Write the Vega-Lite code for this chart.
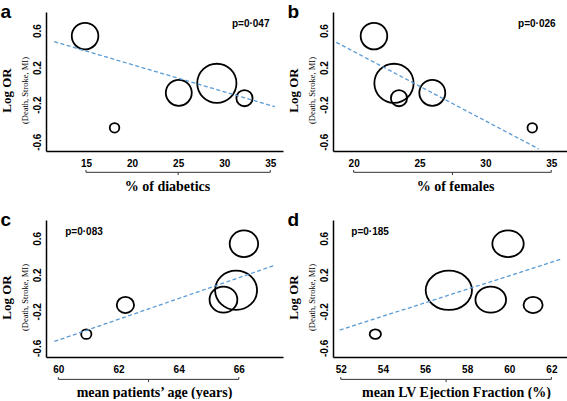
{
  "$schema": "https://vega.github.io/schema/vega-lite/v6.json",
  "padding": {"left": 0, "top": 2, "right": 0, "bottom": 0},
  "background": "white",
  "datasets": {
    "studies": [
      {"study": "A", "logOR": 0.54, "weight": 21.6, "diabetics": 14.9, "females": 21.54, "age": 66.17, "lvef": 59.94},
      {"study": "B", "logOR": -0.45, "weight": 2.8, "diabetics": 18.1, "females": 33.56, "age": 60.93, "lvef": 53.64},
      {"study": "C", "logOR": -0.072, "weight": 20.6, "diabetics": 25.07, "females": 25.97, "age": 65.49, "lvef": 59.12},
      {"study": "D", "logOR": 0.03, "weight": 47.0, "diabetics": 29.2, "females": 23.06, "age": 65.91, "lvef": 57.13},
      {"study": "E", "logOR": -0.13, "weight": 8.0, "diabetics": 32.2, "females": 23.44, "age": 62.23, "lvef": 61.13}
    ],
    "fits": [
      {"panel": "a", "x": 11.55, "y": 0.48}, {"panel": "a", "x": 35.5, "y": -0.222},
      {"panel": "b", "x": 18.68, "y": 0.473}, {"panel": "b", "x": 34.05, "y": -0.678},
      {"panel": "c", "x": 59.87, "y": -0.53}, {"panel": "c", "x": 67.16, "y": 0.3},
      {"panel": "d", "x": 51.95, "y": -0.405}, {"panel": "d", "x": 62.45, "y": 0.37}
    ]
  },
  "config": {
    "view": {"stroke": null},
    "font": "Liberation Sans",
    "title": {"anchor": "start", "frame": "bounds", "baseline": "alphabetic", "offset": -9.5, "fontSize": 19, "font": "Liberation Sans", "fontWeight": "bold", "color": "black"},
    "axis": {"domainColor": "black", "domainWidth": 1.5, "ticks": false, "tickSize": 0, "grid": false, "labelFont": "Liberation Sans", "labelFontWeight": "bold", "labelFontSize": 10, "labelColor": "black", "titleFont": "Liberation Serif", "titleFontWeight": "bold", "titleColor": "black", "titleFontSize": 14},
    "axisX": {"labelPadding": 7, "titlePadding": 11, "labelFlush": false},
    "axisY": {"labelAngle": -90, "labelAlign": "center", "labelBaseline": "bottom", "labelPadding": 4}
  },
  "spacing": 17,
  "vconcat": [
    {
      "spacing": 4,
      "hconcat": [
        {
          "width": 237, "height": 139,
          "title": {"text": "a"},
          "layer": [
            {"data": {"name": "studies"},
             "mark": {"type": "point", "shape": "circle", "filled": false, "color": "black", "strokeWidth": 1.8, "opacity": 1},
             "encoding": {
               "x": {"field": "diabetics", "type": "quantitative", "scale": {"domain": [10.66, 36.38], "nice": false, "zero": false}, "axis": {"title": "% of diabetics", "values": [15, 20, 25, 30, 35], "titleX": 121}},
               "y": {"field": "logOR", "type": "quantitative", "scale": {"domain": [-0.7, 0.8], "nice": false, "zero": false}, "axis": {"title": "Log OR", "values": [0.6, 0.2, -0.2, -0.6], "labelExpr": "toString(datum.value)", "minExtent": 14, "maxExtent": 14, "titlePadding": 18.5, "titleFontSize": 13, "titleY": 78}},
               "size": {"field": "weight", "type": "quantitative", "scale": {"type": "linear", "domain": [0, 100], "range": [0, 3274], "zero": true}, "legend": null}
             }},
            {"data": {"name": "fits"}, "transform": [{"filter": "datum.panel === 'a'"}],
             "mark": {"type": "line", "color": "#5b9bd5", "strokeDash": [4, 2.5], "strokeWidth": 1.3},
             "encoding": {
               "x": {"field": "x", "type": "quantitative", "scale": {"domain": [10.66, 36.38], "nice": false, "zero": false}, "axis": null},
               "y": {"field": "y", "type": "quantitative", "scale": {"domain": [-0.7, 0.8], "nice": false, "zero": false}, "axis": {"title": "(Death, Stroke, MI)", "orient": "left", "labels": false, "domain": false, "ticks": false, "minExtent": 0, "maxExtent": 0, "titlePadding": 16.7, "titleFontSize": 8.5, "titleFontWeight": "normal", "titleY": 78}}
             }},
            {"data": {"values": [{}]},
             "mark": {"type": "text", "text": "p=0·047", "align": "left", "baseline": "middle", "font": "Liberation Sans", "fontWeight": "bold", "fontSize": 10, "color": "black"},
             "encoding": {
               "x": {"datum": 30.84, "type": "quantitative", "scale": {"domain": [10.66, 36.38], "nice": false, "zero": false}, "axis": null},
               "y": {"datum": 0.67, "type": "quantitative", "scale": {"domain": [-0.7, 0.8], "nice": false, "zero": false}, "axis": null}
             }},
            {"data": {"values": [{}]},
             "mark": {"type": "rule", "color": "#333333", "strokeWidth": 1},
             "encoding": {
               "x": {"datum": 15, "type": "quantitative", "scale": {"domain": [10.66, 36.38], "nice": false, "zero": false}, "axis": null},
               "x2": {"datum": 35},
               "y": {"datum": -0.93, "type": "quantitative", "scale": {"domain": [-0.7, 0.8], "nice": false, "zero": false}, "axis": null}
             }},
            {"data": {"values": [{"v": 15}, {"v": 35}]},
             "mark": {"type": "rule", "color": "#333333", "strokeWidth": 1},
             "encoding": {
               "x": {"field": "v", "type": "quantitative", "scale": {"domain": [10.66, 36.38], "nice": false, "zero": false}, "axis": null},
               "y": {"datum": -0.93, "type": "quantitative", "scale": {"domain": [-0.7, 0.8], "nice": false, "zero": false}, "axis": null},
               "y2": {"datum": -0.905}
             }},
            {"data": {"values": [{}]},
             "mark": {"type": "rule", "color": "#333333", "strokeWidth": 1},
             "encoding": {
               "x": {"datum": 25, "type": "quantitative", "scale": {"domain": [10.66, 36.38], "nice": false, "zero": false}, "axis": null},
               "y": {"datum": -0.93, "type": "quantitative", "scale": {"domain": [-0.7, 0.8], "nice": false, "zero": false}, "axis": null},
               "y2": {"datum": -0.96}
             }}
          ],
          "resolve": {"axis": {"x": "independent", "y": "independent"}}
        },
        {
          "width": 238, "height": 139,
          "title": {"text": "b"},
          "layer": [
            {"data": {"name": "studies"},
             "mark": {"type": "point", "shape": "circle", "filled": false, "color": "black", "strokeWidth": 1.8, "opacity": 1},
             "encoding": {
               "x": {"field": "females", "type": "quantitative", "scale": {"domain": [18.43, 36.5], "nice": false, "zero": false}, "axis": {"title": "% of females", "values": [20, 25, 30, 35], "titleX": 122}},
               "y": {"field": "logOR", "type": "quantitative", "scale": {"domain": [-0.7, 0.8], "nice": false, "zero": false}, "axis": {"title": "Log OR", "values": [0.6, 0.2, -0.2, -0.6], "labelExpr": "toString(datum.value)", "minExtent": 14, "maxExtent": 14, "titlePadding": 18.5, "titleFontSize": 13, "titleY": 78}},
               "size": {"field": "weight", "type": "quantitative", "scale": {"type": "linear", "domain": [0, 100], "range": [0, 3274], "zero": true}, "legend": null}
             }},
            {"data": {"name": "fits"}, "transform": [{"filter": "datum.panel === 'b'"}],
             "mark": {"type": "line", "color": "#5b9bd5", "strokeDash": [4, 2.5], "strokeWidth": 1.3},
             "encoding": {
               "x": {"field": "x", "type": "quantitative", "scale": {"domain": [18.43, 36.5], "nice": false, "zero": false}, "axis": null},
               "y": {"field": "y", "type": "quantitative", "scale": {"domain": [-0.7, 0.8], "nice": false, "zero": false}, "axis": {"title": "(Death, Stroke, MI)", "orient": "left", "labels": false, "domain": false, "ticks": false, "minExtent": 0, "maxExtent": 0, "titlePadding": 16.7, "titleFontSize": 8.5, "titleFontWeight": "normal", "titleY": 78}}
             }},
            {"data": {"values": [{}]},
             "mark": {"type": "text", "text": "p=0·026", "align": "left", "baseline": "middle", "font": "Liberation Sans", "fontWeight": "bold", "fontSize": 10, "color": "black"},
             "encoding": {
               "x": {"datum": 32.48, "type": "quantitative", "scale": {"domain": [18.43, 36.5], "nice": false, "zero": false}, "axis": null},
               "y": {"datum": 0.67, "type": "quantitative", "scale": {"domain": [-0.7, 0.8], "nice": false, "zero": false}, "axis": null}
             }},
            {"data": {"values": [{}]},
             "mark": {"type": "rule", "color": "#333333", "strokeWidth": 1},
             "encoding": {
               "x": {"datum": 20, "type": "quantitative", "scale": {"domain": [18.43, 36.5], "nice": false, "zero": false}, "axis": null},
               "x2": {"datum": 35},
               "y": {"datum": -0.93, "type": "quantitative", "scale": {"domain": [-0.7, 0.8], "nice": false, "zero": false}, "axis": null}
             }},
            {"data": {"values": [{"v": 20}, {"v": 35}]},
             "mark": {"type": "rule", "color": "#333333", "strokeWidth": 1},
             "encoding": {
               "x": {"field": "v", "type": "quantitative", "scale": {"domain": [18.43, 36.5], "nice": false, "zero": false}, "axis": null},
               "y": {"datum": -0.93, "type": "quantitative", "scale": {"domain": [-0.7, 0.8], "nice": false, "zero": false}, "axis": null},
               "y2": {"datum": -0.905}
             }},
            {"data": {"values": [{}]},
             "mark": {"type": "rule", "color": "#333333", "strokeWidth": 1},
             "encoding": {
               "x": {"datum": 27.5, "type": "quantitative", "scale": {"domain": [18.43, 36.5], "nice": false, "zero": false}, "axis": null},
               "y": {"datum": -0.93, "type": "quantitative", "scale": {"domain": [-0.7, 0.8], "nice": false, "zero": false}, "axis": null},
               "y2": {"datum": -0.96}
             }}
          ],
          "resolve": {"axis": {"x": "independent", "y": "independent"}}
        }
      ]
    },
    {
      "spacing": 4,
      "hconcat": [
        {
          "width": 237, "height": 137,
          "title": {"text": "c"},
          "layer": [
            {"data": {"name": "studies"},
             "mark": {"type": "point", "shape": "M -1.07,0 A 1.07,1 0 1,0 1.07,0 A 1.07,1 0 1,0 -1.07,0 Z", "filled": false, "color": "black", "strokeWidth": 1.8, "opacity": 1},
             "encoding": {
               "x": {"field": "age", "type": "quantitative", "scale": {"domain": [59.59, 67.47], "nice": false, "zero": false}, "axis": {"title": "mean patients’ age (years)", "values": [60, 62, 64, 66], "titleX": 108}},
               "y": {"field": "logOR", "type": "quantitative", "scale": {"domain": [-0.7, 0.8], "nice": false, "zero": false}, "axis": {"title": "Log OR", "values": [0.6, 0.2, -0.2, -0.6], "labelExpr": "toString(datum.value)", "minExtent": 14, "maxExtent": 14, "titlePadding": 18.5, "titleFontSize": 13, "titleY": 77}},
               "size": {"field": "weight", "type": "quantitative", "scale": {"type": "linear", "domain": [0, 100], "range": [0, 3274], "zero": true}, "legend": null}
             }},
            {"data": {"name": "fits"}, "transform": [{"filter": "datum.panel === 'c'"}],
             "mark": {"type": "line", "color": "#5b9bd5", "strokeDash": [4, 2.5], "strokeWidth": 1.3},
             "encoding": {
               "x": {"field": "x", "type": "quantitative", "scale": {"domain": [59.59, 67.47], "nice": false, "zero": false}, "axis": null},
               "y": {"field": "y", "type": "quantitative", "scale": {"domain": [-0.7, 0.8], "nice": false, "zero": false}, "axis": {"title": "(Death, Stroke, MI)", "orient": "left", "labels": false, "domain": false, "ticks": false, "minExtent": 0, "maxExtent": 0, "titlePadding": 16.7, "titleFontSize": 8.5, "titleFontWeight": "normal", "titleY": 77}}
             }},
            {"data": {"values": [{}]},
             "mark": {"type": "text", "text": "p=0·083", "align": "left", "baseline": "middle", "font": "Liberation Sans", "fontWeight": "bold", "fontSize": 10, "color": "black"},
             "encoding": {
               "x": {"datum": 60.23, "type": "quantitative", "scale": {"domain": [59.59, 67.47], "nice": false, "zero": false}, "axis": null},
               "y": {"datum": 0.665, "type": "quantitative", "scale": {"domain": [-0.7, 0.8], "nice": false, "zero": false}, "axis": null}
             }},
            {"data": {"values": [{}]},
             "mark": {"type": "rule", "color": "#333333", "strokeWidth": 1},
             "encoding": {
               "x": {"datum": 60, "type": "quantitative", "scale": {"domain": [59.59, 67.47], "nice": false, "zero": false}, "axis": null},
               "x2": {"datum": 66},
               "y": {"datum": -0.945, "type": "quantitative", "scale": {"domain": [-0.7, 0.8], "nice": false, "zero": false}, "axis": null}
             }},
            {"data": {"values": [{"v": 60}, {"v": 66}]},
             "mark": {"type": "rule", "color": "#333333", "strokeWidth": 1},
             "encoding": {
               "x": {"field": "v", "type": "quantitative", "scale": {"domain": [59.59, 67.47], "nice": false, "zero": false}, "axis": null},
               "y": {"datum": -0.945, "type": "quantitative", "scale": {"domain": [-0.7, 0.8], "nice": false, "zero": false}, "axis": null},
               "y2": {"datum": -0.92}
             }},
            {"data": {"values": [{}]},
             "mark": {"type": "rule", "color": "#333333", "strokeWidth": 1},
             "encoding": {
               "x": {"datum": 63, "type": "quantitative", "scale": {"domain": [59.59, 67.47], "nice": false, "zero": false}, "axis": null},
               "y": {"datum": -0.945, "type": "quantitative", "scale": {"domain": [-0.7, 0.8], "nice": false, "zero": false}, "axis": null},
               "y2": {"datum": -0.975}
             }}
          ],
          "resolve": {"axis": {"x": "independent", "y": "independent"}}
        },
        {
          "width": 238, "height": 137,
          "title": {"text": "d"},
          "layer": [
            {"data": {"name": "studies"},
             "mark": {"type": "point", "shape": "M -1.18,0 A 1.18,1 0 1,0 1.18,0 A 1.18,1 0 1,0 -1.18,0 Z", "filled": false, "color": "black", "strokeWidth": 1.8, "opacity": 1},
             "encoding": {
               "x": {"field": "lvef", "type": "quantitative", "scale": {"domain": [51.63, 62.93], "nice": false, "zero": false}, "axis": {"title": "mean LV Ejection Fraction (%)", "values": [52, 54, 56, 58, 60, 62], "titleX": 123}},
               "y": {"field": "logOR", "type": "quantitative", "scale": {"domain": [-0.7, 0.8], "nice": false, "zero": false}, "axis": {"title": "Log OR", "values": [0.6, 0.2, -0.2, -0.6], "labelExpr": "toString(datum.value)", "minExtent": 14, "maxExtent": 14, "titlePadding": 18.5, "titleFontSize": 13, "titleY": 77}},
               "size": {"field": "weight", "type": "quantitative", "scale": {"type": "linear", "domain": [0, 100], "range": [0, 3274], "zero": true}, "legend": null}
             }},
            {"data": {"name": "fits"}, "transform": [{"filter": "datum.panel === 'd'"}],
             "mark": {"type": "line", "color": "#5b9bd5", "strokeDash": [4, 2.5], "strokeWidth": 1.3},
             "encoding": {
               "x": {"field": "x", "type": "quantitative", "scale": {"domain": [51.63, 62.93], "nice": false, "zero": false}, "axis": null},
               "y": {"field": "y", "type": "quantitative", "scale": {"domain": [-0.7, 0.8], "nice": false, "zero": false}, "axis": {"title": "(Death, Stroke, MI)", "orient": "left", "labels": false, "domain": false, "ticks": false, "minExtent": 0, "maxExtent": 0, "titlePadding": 16.7, "titleFontSize": 8.5, "titleFontWeight": "normal", "titleY": 77}}
             }},
            {"data": {"values": [{}]},
             "mark": {"type": "text", "text": "p=0·185", "align": "left", "baseline": "middle", "font": "Liberation Sans", "fontWeight": "bold", "fontSize": 10, "color": "black"},
             "encoding": {
               "x": {"datum": 52.5, "type": "quantitative", "scale": {"domain": [51.63, 62.93], "nice": false, "zero": false}, "axis": null},
               "y": {"datum": 0.673, "type": "quantitative", "scale": {"domain": [-0.7, 0.8], "nice": false, "zero": false}, "axis": null}
             }},
            {"data": {"values": [{}]},
             "mark": {"type": "rule", "color": "#333333", "strokeWidth": 1},
             "encoding": {
               "x": {"datum": 52, "type": "quantitative", "scale": {"domain": [51.63, 62.93], "nice": false, "zero": false}, "axis": null},
               "x2": {"datum": 62},
               "y": {"datum": -0.945, "type": "quantitative", "scale": {"domain": [-0.7, 0.8], "nice": false, "zero": false}, "axis": null}
             }},
            {"data": {"values": [{"v": 52}, {"v": 62}]},
             "mark": {"type": "rule", "color": "#333333", "strokeWidth": 1},
             "encoding": {
               "x": {"field": "v", "type": "quantitative", "scale": {"domain": [51.63, 62.93], "nice": false, "zero": false}, "axis": null},
               "y": {"datum": -0.945, "type": "quantitative", "scale": {"domain": [-0.7, 0.8], "nice": false, "zero": false}, "axis": null},
               "y2": {"datum": -0.92}
             }},
            {"data": {"values": [{}]},
             "mark": {"type": "rule", "color": "#333333", "strokeWidth": 1},
             "encoding": {
               "x": {"datum": 57, "type": "quantitative", "scale": {"domain": [51.63, 62.93], "nice": false, "zero": false}, "axis": null},
               "y": {"datum": -0.945, "type": "quantitative", "scale": {"domain": [-0.7, 0.8], "nice": false, "zero": false}, "axis": null},
               "y2": {"datum": -0.975}
             }}
          ],
          "resolve": {"axis": {"x": "independent", "y": "independent"}}
        }
      ]
    }
  ]
}
